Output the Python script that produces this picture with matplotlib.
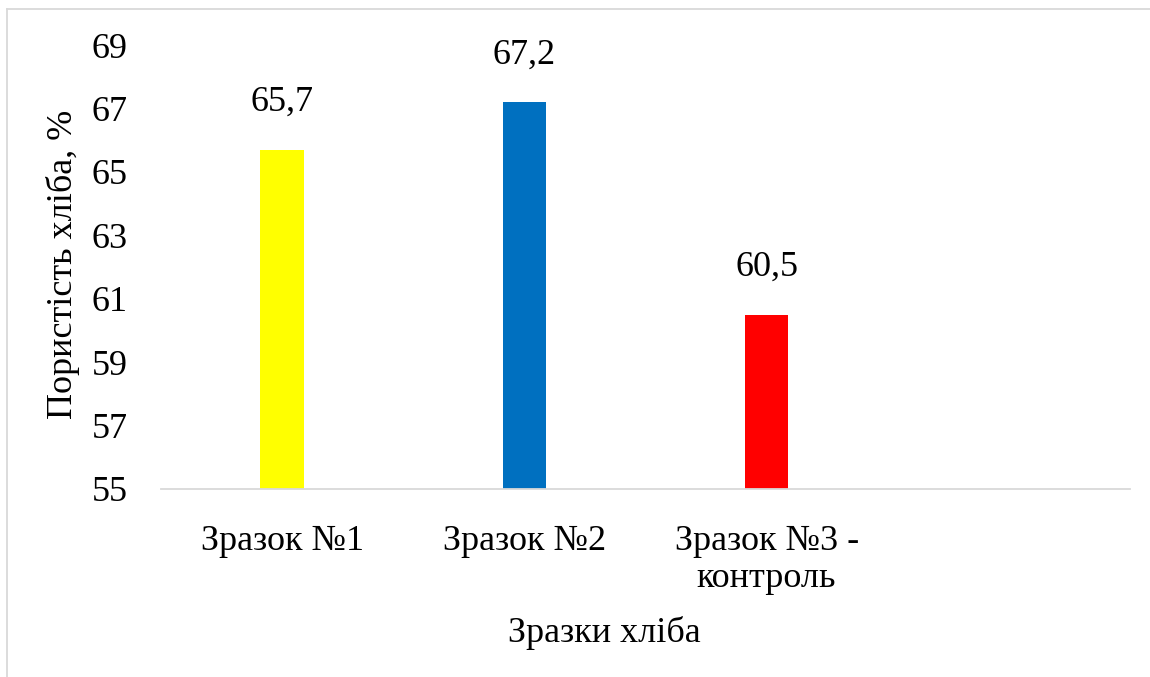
import matplotlib.pyplot as plt
from matplotlib.lines import Line2D

categories = ['Зразок №1', 'Зразок №2', 'Зразок №3 -\nконтроль', '']
values = [65.7, 67.2, 60.5]
labels = ['65,7', '67,2', '60,5']
colours = ['#FFFF00', '#0070C0', '#FF0000']
yticks = [55, 57, 59, 61, 63, 65, 67, 69]

plt.rcParams['font.family'] = ['Liberation Serif', 'DejaVu Serif']
fs = 26

fig = plt.figure(figsize=(11.5, 6.77), dpi=100)
ax = fig.add_axes([0.140, 0.2777, 0.8426, 0.6558])

x = list(range(len(categories)))
ax.bar(x[:3], [v - 55 for v in values], bottom=55, width=0.18, color=colours)
for i, (v, t) in enumerate(zip(values, labels)):
    ax.annotate(t, (i, v), xytext=(0, 22), textcoords='offset points',
                ha='center', va='bottom', fontsize=fs)

ax.set_xlim(-0.5, 3.5)
ax.set_ylim(55, 69)
ax.set_yticks(yticks)
ax.set_yticklabels([str(t) for t in yticks], fontsize=fs)
ax.set_xticks(x)
ax.set_xticklabels(categories, fontsize=fs, linespacing=1.15)
ax.tick_params(length=0)
ax.tick_params(axis='x', pad=26)
ax.tick_params(axis='y', pad=24)

for s in ['top', 'right', 'left']:
    ax.spines[s].set_visible(False)
ax.spines['bottom'].set_color('#D9D9D9')
ax.spines['bottom'].set_linewidth(1.3)

ax.set_xlabel('Зразки хліба', fontsize=fs, va='center')
ax.xaxis.set_label_coords(0.457, -0.325)
ax.set_ylabel('Пористість хліба, %', fontsize=fs, va='center')
ax.yaxis.set_label_coords(-0.1016, 0.507)

# outer chart border, only the left and top edges fall inside the picture
fig.add_artist(Line2D([7 / 1150, 7 / 1150], [0, 1 - 9 / 677], color='#D9D9D9', lw=1.3))
fig.add_artist(Line2D([7 / 1150, 1], [1 - 9 / 677, 1 - 9 / 677], color='#D9D9D9', lw=1.3))

fig.savefig('out.png', dpi=100, facecolor='white')
